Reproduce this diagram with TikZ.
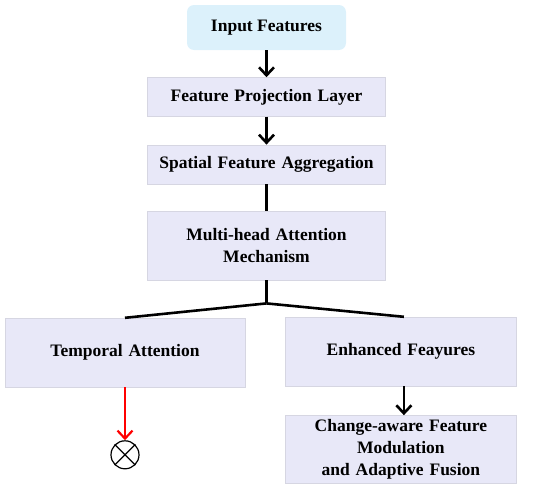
\documentclass[tikz,border=0pt]{standalone}
\usepackage{fontspec}
\setmainfont{Liberation Serif}
\usepackage{tikz}
\usetikzlibrary{arrows.meta, positioning, calc}
\usepackage{xcolor}
\definecolor{inputblue}{RGB}{220,241,251}
\definecolor{boxlav}{RGB}{232,232,248}
\definecolor{boxedge}{RGB}{214,214,226}

\begin{document}
\begin{tikzpicture}[
    x=1pt, y=-1pt,
    node distance=27pt and 40pt,
    block/.style={rectangle, draw=boxedge, fill=boxlav, text width=230pt, align=center, minimum width=238pt, minimum height=39pt, inner sep=0pt, font=\fontsize{17.5}{22}\selectfont\bfseries},
    tallblock/.style={block, minimum height=69pt},
    inblock/.style={rectangle, rounded corners=7pt, fill=inputblue, minimum width=159pt, minimum height=45pt, inner sep=0pt, font=\fontsize{17.5}{22}\selectfont\bfseries},
    arrow/.style={-{Straight Barb[length=8pt, width=15pt]}, line width=2.6pt},
    redarrow/.style={-{Straight Barb[length=8pt, width=15pt]}, line width=2.2pt, red},
    link/.style={line width=2.6pt},
  ]
  \useasboundingbox (0,0) rectangle (550,490);

  \node[inblock] (input) at (266.5,27.5) {Input Features};
  \node[block, below=of input] (proj) {Feature Projection Layer};
  \node[block, below=28pt of proj] (spatial) {Spatial Feature Aggregation};
  \node[tallblock, below=of spatial] (mha) {Multi-head Attention\\Mechanism};

  \node[tallblock, minimum width=240pt] (temporal) at (125,352.5) {Temporal Attention};
  \node[tallblock, minimum width=231pt, right=40pt of temporal.north east, anchor=north west, yshift=1pt] (enhanced) {Enhanced Feayures};
  \node[tallblock, minimum width=231pt, minimum height=68pt, below=29pt of enhanced] (change) {Change-aware Feature\\Modulation\\and Adaptive Fusion};

  \node[circle, draw, line width=1.2pt, minimum size=28pt, inner sep=0pt, below=53pt of temporal] (mult) {};
  \draw[line width=1.2pt] (mult.north west) -- (mult.south east) (mult.north east) -- (mult.south west);

  \draw[arrow] (input) -- (proj);
  \draw[arrow] (proj) -- (spatial);
  \draw[link] (spatial) -- (mha);

  \coordinate (split) at ($(mha.south)+(0,23)$);
  \draw[link] (mha.south) -- (split);
  \draw[link] (split) -- (temporal.north);
  \draw[link] (split) -- ($(enhanced.north)+(3,0)$);

  \draw[redarrow] (temporal) -- (mult);
  \draw[arrow] ($(enhanced.south)+(3,0)$) -- ($(change.north)+(3,0)$);

\end{tikzpicture}
\end{document}
